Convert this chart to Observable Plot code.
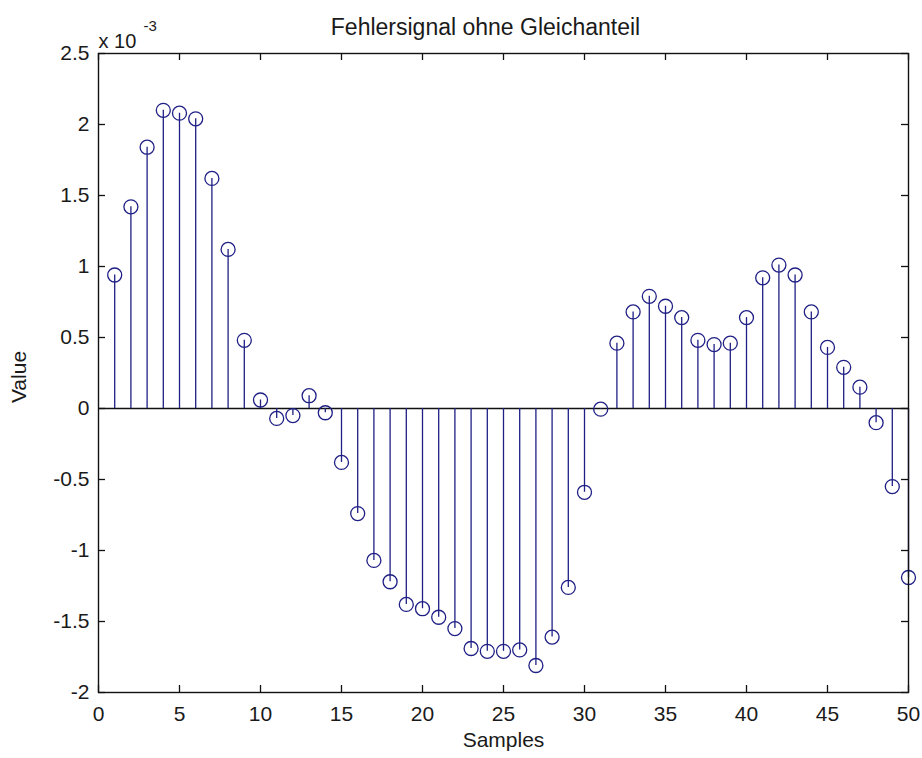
<!DOCTYPE html>
<html>
<head>
<meta charset="utf-8">
<script src="https://cdn.jsdelivr.net/npm/d3@7"></script>
<script src="https://cdn.jsdelivr.net/npm/@observablehq/plot@0.6"></script>
<style>
  html, body { margin: 0; padding: 0; background: #fff; }
</style>
</head>
<body>
<div id="chart"></div>
<script>
// Sample indices
const samples = [1,2,3,4,5,6,7,8,9,10,11,12,13,14,15,16,17,18,19,20,21,22,23,24,25,
                 26,27,28,29,30,31,32,33,34,35,36,37,38,39,40,41,42,43,44,45,46,47,48,49,50];
// Values in units of 1e-3 (axis shows "x 10^-3")
const values = [0.94, 1.42, 1.84, 2.10, 2.08, 2.04, 1.62, 1.12, 0.48, 0.06,
                -0.07, -0.05, 0.09, -0.03, -0.38, -0.74, -1.07, -1.22, -1.38, -1.41,
                -1.47, -1.55, -1.69, -1.71, -1.71, -1.70, -1.81, -1.61, -1.26, -0.59,
                -0.005, 0.46, 0.68, 0.79, 0.72, 0.64, 0.48, 0.45, 0.46, 0.64,
                0.92, 1.01, 0.94, 0.68, 0.43, 0.29, 0.15, -0.10, -0.55, -1.19];
const xTicks = [0, 5, 10, 15, 20, 25, 30, 35, 40, 45, 50];
const yTicks = [-2, -1.5, -1, -0.5, 0, 0.5, 1, 1.5, 2, 2.5];
const title = "Fehlersignal ohne Gleichanteil";
const xLabel = "Samples";
const yLabel = "Value";
const exponentBase = "x 10";
const exponentPower = "-3";

const data = samples.map((s, i) => ({sample: s, value: values[i]}));

const W = 922, H = 758;
const mL = 98, mR = 14, mT = 53, mB = 66;
const innerW = W - mL - mR, innerH = H - mT - mB;
const tickLen = 7;
const stemColor = "#1f1f85";
const ink = "#1a1a1a";
const font = "'Liberation Sans', Arial, Helvetica, sans-serif";

const chart = Plot.plot({
  width: W,
  height: H,
  marginLeft: mL,
  marginRight: mR,
  marginTop: mT,
  marginBottom: mB,
  style: {fontFamily: font, fontSize: "21px", background: "#fff", color: ink},
  x: {domain: [0, 50], label: null},
  y: {domain: [-2, 2.5], label: null},
  marks: [
    Plot.ruleY([0], {stroke: "#111", strokeWidth: 1.4}),
    Plot.ruleX(data, {x: "sample", y1: 0, y2: "value", stroke: stemColor, strokeWidth: 1.3}),
    Plot.dot(data, {x: "sample", y: "value", r: 7, stroke: stemColor, strokeWidth: 1.3, fill: "none"}),
    // inward ticks on all four sides
    Plot.tickX(xTicks, {x: d => d, insetTop: innerH - tickLen, stroke: "#111", strokeWidth: 1.3}),
    Plot.tickX(xTicks, {x: d => d, insetBottom: innerH - tickLen, stroke: "#111", strokeWidth: 1.3}),
    Plot.tickY(yTicks, {y: d => d, insetRight: innerW - tickLen, stroke: "#111", strokeWidth: 1.3}),
    Plot.tickY(yTicks, {y: d => d, insetLeft: innerW - tickLen, stroke: "#111", strokeWidth: 1.3}),
    Plot.frame({stroke: "#111", strokeWidth: 1.4}),
    Plot.axisX({ticks: xTicks, tickSize: 0, tickPadding: 14, tickFormat: d => String(d), fontSize: 21, fill: ink}),
    Plot.axisY({ticks: yTicks, tickSize: 0, tickPadding: 9, tickFormat: d => String(d), fontSize: 21, fill: ink}),
    Plot.text([xLabel], {text: d => d, frameAnchor: "bottom", textAnchor: "middle", dy: 54, fontSize: 21, fill: ink}),
    Plot.text([yLabel], {text: d => d, frameAnchor: "left", textAnchor: "middle", dx: -79, dy: 4, rotate: -90, fontSize: 21, fill: ink}),
    Plot.text([title], {text: d => d, frameAnchor: "top", textAnchor: "middle", dy: -35, dx: -18, fontSize: 23, fill: ink}),
    Plot.text([exponentBase], {text: d => d, frameAnchor: "top-left", textAnchor: "start", dy: -20, dx: 0, fontSize: 20, fill: ink}),
    Plot.text([exponentPower], {text: d => d, frameAnchor: "top-left", textAnchor: "start", dy: -33, dx: 45, fontSize: 15, fill: ink})
  ]
});

document.getElementById("chart").appendChild(chart);
</script>
</body>
</html>
